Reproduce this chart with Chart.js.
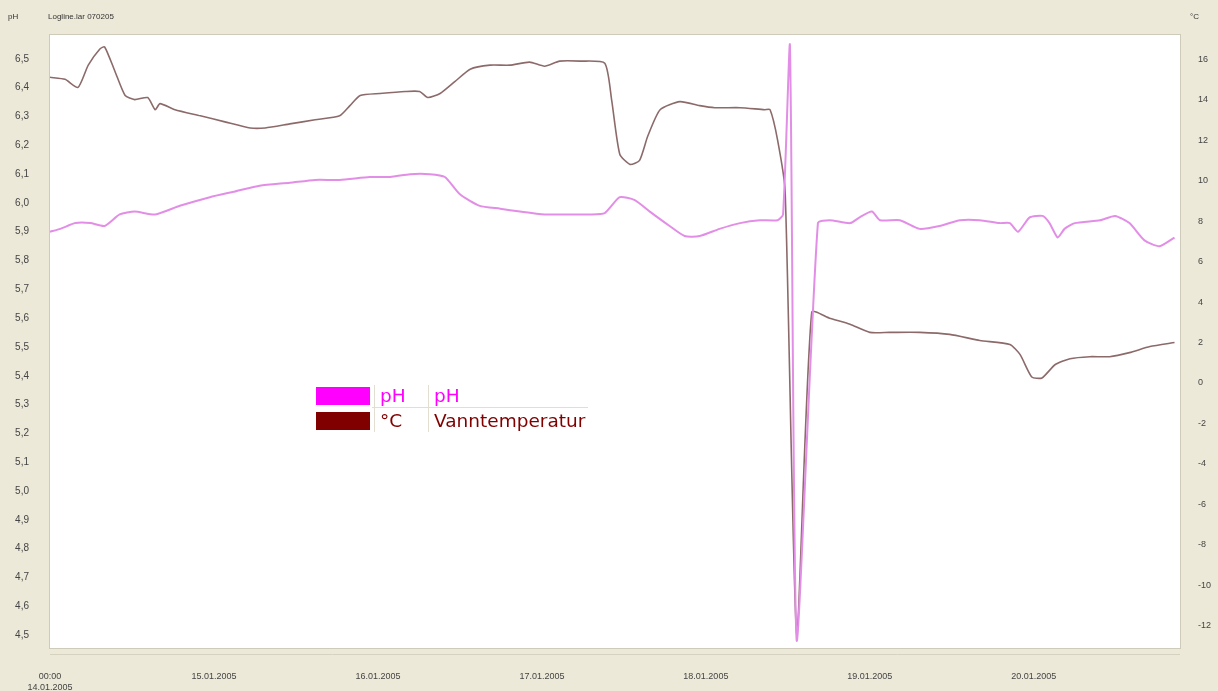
<!DOCTYPE html>
<html>
<head>
<meta charset="utf-8">
<script src="https://cdn.jsdelivr.net/npm/chart.js@4/dist/chart.umd.min.js"></script>
<style>
    html, body { margin: 0; padding: 0; background: #ece9d8; }
    #wrap { position: relative; width: 1218px; height: 691px; }
    .hdr { position: absolute; top: 12px; font: 8px "Liberation Sans", Arial, sans-serif; color: #333; }
</style>
</head>
<body>
<div id="wrap">
    <canvas id="chart" width="1218" height="691"></canvas>
    <div class="hdr" style="left:8px">pH</div>
    <div class="hdr" style="left:48px">Logline.lar 070205</div>
    <div class="hdr" style="left:1190px">°C</div>
</div>
<script>
// Tidsakse: timer fra 14.01.2005 00:00
const dayTicks = [0, 24, 48, 72, 96, 120, 144];
const dayLabels = [['00:00', '14.01.2005'], '15.01.2005', '16.01.2005', '17.01.2005', '18.01.2005', '19.01.2005', '20.01.2005'];

// pH (venstre akse)
const phHours = [0, 1.5, 3.7, 5.9, 8.0, 10.2, 12.4, 15.4, 19.0, 23.4, 27.1, 30.7, 35.1, 38.8, 42.4, 46.8, 49.8, 52.7, 55.6, 57.8,
    60.0, 62.9, 65.9, 68.8, 72.4, 76.1, 79.0, 81.2, 83.4, 85.6, 87.8, 90.7, 92.9, 95.1, 98.0, 101.0, 103.9, 106.5, 107.3, 108.3,
    109.3, 112.4, 114.1, 117.1, 118.5, 120.3, 121.5, 124.4, 127.3, 130.2, 133.2, 136.1, 139.0, 140.5, 141.7, 143.4, 145.3, 146.3,
    147.5, 148.5, 150.0, 153.7, 155.9, 158.0, 160.2, 162.4, 164.6];
const phValues = [5.90, 5.91, 5.93, 5.93, 5.92, 5.96, 5.97, 5.96, 5.99, 6.02, 6.04, 6.06, 6.07, 6.08, 6.08, 6.09, 6.09, 6.10, 6.10, 6.09,
    6.03, 5.99, 5.98, 5.97, 5.96, 5.96, 5.96, 5.965, 6.02, 6.01, 5.97, 5.92, 5.885, 5.885, 5.91, 5.93, 5.94, 5.94, 5.96, 6.55,
    4.48, 5.93, 5.94, 5.93, 5.95, 5.97, 5.94, 5.94, 5.91, 5.92, 5.94, 5.94, 5.93, 5.93, 5.90, 5.95, 5.955, 5.93,
    5.88, 5.91, 5.93, 5.94, 5.955, 5.93, 5.87, 5.85, 5.88];

// Vanntemperatur (høyre akse)
const tempHours = [0, 2.2, 4.1, 5.6, 7.3, 8.0, 9.5, 11.0, 12.4, 14.3, 15.4, 16.1, 18.3, 22.0, 25.6, 29.3, 31.5, 35.1, 38.8, 42.4,
    43.9, 45.4, 48.3, 52.0, 54.1, 55.3, 57.1, 59.3, 61.5, 64.4, 67.3, 70.2, 72.4, 74.6, 77.6, 81.2, 82.2, 83.4, 84.9, 86.3,
    87.5, 89.3, 92.2, 95.1, 97.3, 101.0, 104.6, 105.4, 106.5, 107.6, 109.3, 111.5, 114.1, 117.1, 120.0, 122.9, 127.3, 131.7,
    136.1, 140.5, 142.0, 143.7, 145.2, 147.1, 149.3, 152.2, 155.1, 158.0, 161.0, 164.6];
const tempValues = [15.1, 15.0, 14.6, 15.7, 16.5, 16.6, 15.4, 14.2, 14.0, 14.1, 13.5, 13.8, 13.5, 13.2, 12.9, 12.6, 12.6, 12.8, 13.0, 13.2,
    13.7, 14.2, 14.3, 14.4, 14.4, 14.1, 14.3, 14.9, 15.5, 15.7, 15.7, 15.85, 15.65, 15.9, 15.9, 15.8, 14.0, 11.3, 10.8, 11.0,
    12.2, 13.5, 13.9, 13.7, 13.6, 13.6, 13.5, 13.5, 12.0, 9.5, -12.4, 3.5, 3.2, 2.9, 2.5, 2.5, 2.5, 2.4,
    2.1, 1.9, 1.4, 0.3, 0.25, 0.9, 1.2, 1.3, 1.3, 1.5, 1.8, 2.0];

const phTicks = [];
for (let i = 45; i <= 65; i++) phTicks.push(i / 10);
const tempTicks = [];
for (let t = -12; t <= 16; t += 2) tempTicks.push(t);

const axisFont = { family: '"Liberation Sans", Arial, sans-serif', size: 9 };

// Hvit plottflate og ramme
const plotBackground = {
    id: 'plotBackground',
    beforeDraw(chart) {
        const { ctx, chartArea: a } = chart;
        ctx.save();
        ctx.fillStyle = '#ffffff';
        ctx.fillRect(a.left, a.top, a.right - a.left, a.bottom - a.top);
        ctx.strokeStyle = '#cfcbbb';
        ctx.lineWidth = 1;
        ctx.strokeRect(a.left - 0.5, a.top - 0.5, a.right - a.left + 1, a.bottom - a.top + 1);
        ctx.strokeStyle = '#d6d2c2';
        ctx.beginPath();
        ctx.moveTo(a.left, a.bottom + 6.5);
        ctx.lineTo(a.right, a.bottom + 6.5);
        ctx.stroke();
        ctx.restore();
    }
};

// Tegnforklaring som tabell inne i plottet
const tableLegend = {
    id: 'tableLegend',
    afterDraw(chart) {
        const ctx = chart.ctx;
        const rows = [
            { color: '#ff00ff', unit: 'pH', name: 'pH' },
            { color: '#800000', unit: '°C', name: 'Vanntemperatur' }
        ];
        ctx.save();
        ctx.strokeStyle = '#e2dfd2';
        ctx.lineWidth = 1;
        ctx.beginPath();
        ctx.moveTo(374.5, 385); ctx.lineTo(374.5, 432);
        ctx.moveTo(428.5, 385); ctx.lineTo(428.5, 432);
        ctx.moveTo(372, 407.5); ctx.lineTo(588, 407.5);
        ctx.stroke();
        ctx.font = '18.5px "DejaVu Sans", Verdana, sans-serif';
        ctx.textBaseline = 'middle';
        rows.forEach((r, i) => {
            const y = 387 + i * 25;
            ctx.fillStyle = r.color;
            ctx.fillRect(316, y, 54, 18);
            ctx.fillText(r.unit, 380, y + 10);
            ctx.fillText(r.name, 434, y + 10);
        });
        ctx.restore();
    }
};

new Chart(document.getElementById('chart'), {
    type: 'line',
    data: {
        datasets: [
            {
                label: 'pH',
                data: phHours.map((h, i) => ({ x: h, y: phValues[i] })),
                yAxisID: 'yPh',
                borderColor: '#e28ee6',
                borderWidth: 2,
                pointRadius: 0,
                tension: 0.2
            },
            {
                label: 'Vanntemperatur',
                data: tempHours.map((h, i) => ({ x: h, y: tempValues[i] })),
                yAxisID: 'yTemp',
                borderColor: '#8c6a6a',
                borderWidth: 1.6,
                pointRadius: 0,
                tension: 0.2
            }
        ]
    },
    options: {
        responsive: false,
        animation: false,
        layout: { padding: { top: 35, left: 0, right: 0, bottom: 0 } },
        plugins: { legend: { display: false }, tooltip: { enabled: false } },
        scales: {
            x: {
                type: 'linear', min: 0, max: 165.4,
                grid: { display: false }, border: { display: false },
                afterBuildTicks: s => { s.ticks = dayTicks.map(v => ({ value: v })); },
                afterFit: s => { s.height = 43; },
                ticks: {
                    autoSkip: false, maxRotation: 0, padding: 15, color: '#444', font: axisFont,
                    callback: v => dayLabels[dayTicks.indexOf(v)]
                }
            },
            yPh: {
                position: 'left', min: 4.455, max: 6.583,
                grid: { display: false }, border: { display: false },
                afterBuildTicks: s => { s.ticks = phTicks.map(v => ({ value: v })); },
                afterFit: s => { s.width = 50; },
                ticks: {
                    autoSkip: false, padding: 13, color: '#444', font: { ...axisFont, size: 10 },
                    callback: v => v.toFixed(1).replace('.', ',')
                }
            },
            yTemp: {
                position: 'right', min: -13.09, max: 17.19,
                grid: { display: false }, border: { display: false },
                afterBuildTicks: s => { s.ticks = tempTicks.map(v => ({ value: v })); },
                afterFit: s => { s.width = 38; },
                ticks: { autoSkip: false, padding: 10, color: '#444', font: axisFont }
            }
        }
    },
    plugins: [plotBackground, tableLegend]
});
</script>
</body>
</html>
